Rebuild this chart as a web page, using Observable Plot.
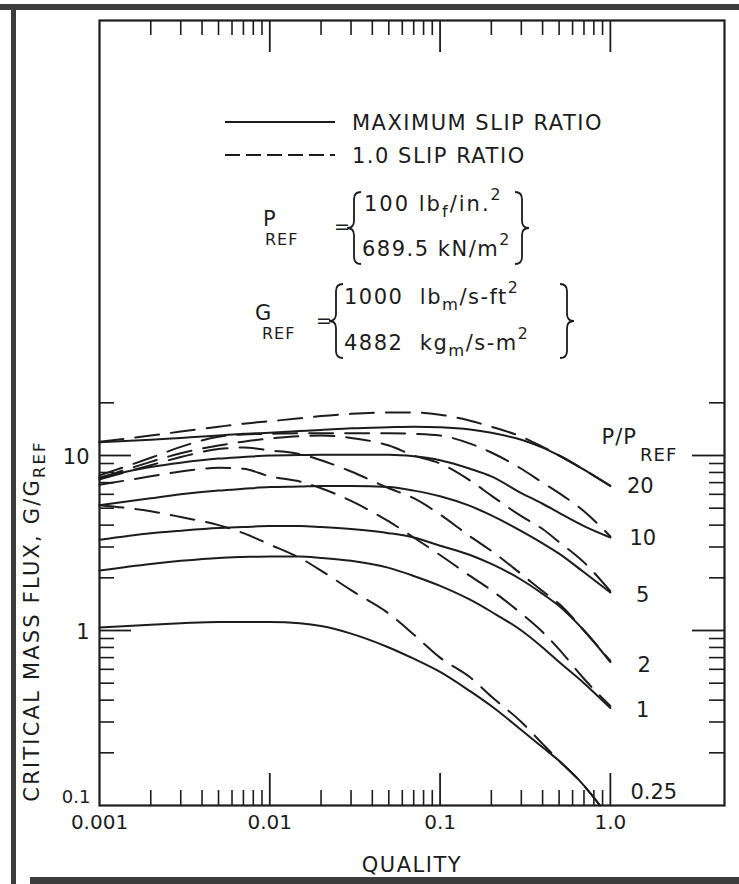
<!DOCTYPE html>
<html>
<head>
<meta charset="utf-8">
<script src="https://cdn.jsdelivr.net/npm/d3@7"></script>
<script src="https://cdn.jsdelivr.net/npm/@observablehq/plot@0.6"></script>
<style>
  html, body { margin:0; padding:0; background:#fff; }
  #chart { position:relative; width:739px; height:884px; overflow:hidden; background:#fff; }
  #chart svg { position:absolute; left:0; top:0; }
  .scan { position:absolute; background:#3c3c3c; }
</style>
</head>
<body>
<div id="chart"></div>
<script>
// ---------- data ----------
const quality    = [0.001, 0.002, 0.003, 0.005, 0.007, 0.01, 0.015, 0.02, 0.03, 0.05, 0.07, 0.1, 0.15, 0.2, 0.3, 0.4, 0.5, 0.7, 1.0];
const quality025 = [0.001, 0.002, 0.003, 0.005, 0.007, 0.01, 0.015, 0.02, 0.03, 0.05, 0.07, 0.1, 0.15, 0.2, 0.3, 0.4, 0.5, 0.7, 0.87];

// maximum slip ratio (solid)
const maxSlip20  = [11.9, 12.3, 12.6, 13.0, 13.3, 13.5, 13.8, 14.0, 14.3, 14.5, 14.6, 14.5, 14.1, 13.5, 12.3, 11.1, 10.0, 8.3, 6.7];
const maxSlip10  = [7.5, 8.6, 9.1, 9.6, 9.8, 10.0, 10.05, 10.1, 10.1, 10.1, 9.9, 9.4, 8.4, 7.6, 6.1, 5.3, 4.7, 3.95, 3.4];
const maxSlip5   = [5.2, 5.7, 6.0, 6.3, 6.45, 6.6, 6.65, 6.7, 6.7, 6.6, 6.3, 5.85, 5.15, 4.55, 3.7, 3.15, 2.75, 2.15, 1.65];
const maxSlip2   = [3.3, 3.6, 3.72, 3.85, 3.9, 3.95, 3.95, 3.9, 3.8, 3.6, 3.4, 3.05, 2.7, 2.4, 1.95, 1.62, 1.38, 1.0, 0.66];
const maxSlip1   = [2.2, 2.4, 2.5, 2.6, 2.63, 2.65, 2.65, 2.6, 2.5, 2.28, 2.05, 1.8, 1.5, 1.28, 1.0, 0.8, 0.66, 0.5, 0.36];
const maxSlip025 = [1.04, 1.08, 1.10, 1.12, 1.12, 1.12, 1.10, 1.06, 0.96, 0.8, 0.69, 0.58, 0.45, 0.37, 0.27, 0.215, 0.18, 0.13, 0.1];

// 1.0 slip ratio (dashed)
const oneSlip20  = [12.0, 13.0, 13.7, 14.6, 15.2, 15.7, 16.3, 16.8, 17.3, 17.6, 17.6, 17.1, 15.8, 14.6, 12.8, 11.2, 10.0, 8.3, 6.7];
const oneSlip10  = [7.7, 9.7, 11.2, 12.8, 13.2, 13.3, 13.4, 13.4, 13.4, 13.4, 13.3, 13.0, 11.7, 10.4, 8.4, 7.0, 6.1, 4.8, 3.45];
const oneSlip5   = [7.4, 9.2, 10.3, 11.4, 12.0, 12.5, 12.9, 13.0, 12.6, 11.4, 10.0, 9.0, 7.2, 5.9, 4.5, 3.8, 3.2, 2.45, 1.68];
const oneSlip2   = [7.3, 8.8, 9.8, 10.9, 11.1, 10.7, 10.2, 9.4, 8.1, 6.5, 5.7, 4.6, 3.45, 2.85, 2.1, 1.68, 1.42, 1.0, 0.67];
const oneSlip1   = [6.8, 7.6, 8.1, 8.5, 8.4, 7.6, 7.1, 6.5, 5.5, 4.2, 3.4, 2.7, 2.05, 1.7, 1.25, 0.98, 0.78, 0.53, 0.37];
const oneSlip025 = [5.2, 4.8, 4.45, 4.0, 3.6, 3.1, 2.6, 2.2, 1.7, 1.25, 0.95, 0.70, 0.54, 0.42, 0.30, 0.225, 0.18, 0.13, 0.1];

const pressureRatios = ["20", "10", "5", "2", "1", "0.25"];
const labelQuality   = [1.5, 1.55, 1.55, 1.58, 1.55, 1.8];
const labelFlux      = [6.7, 3.36, 1.58, 0.63, 0.35, 0.119];

// axis ticks and labels
const xMinorTicks = [0.002,0.003,0.004,0.005,0.006,0.007,0.008,0.009,
                     0.02,0.03,0.04,0.05,0.06,0.07,0.08,0.09,
                     0.2,0.3,0.4,0.5,0.6,0.7,0.8,0.9];
const xMajorTicks = [0.01, 0.1, 1];
const yMinorTicks = [0.2,0.3,0.4,0.5,0.6,0.7,0.8,0.9, 2,3,4,5,6,7,8,9, 20];
const yMajorTicks = [1, 10];
const xTickValues = [0.001, 0.01, 0.1, 1];
const xTickLabels = ["0.001", "0.01", "0.1", "1.0"];
const yTickValues = [0.1, 1, 10];
const yTickLabels = ["0.1", "1", "10"];

// ---------- build table ----------
const solidSeries  = [maxSlip20, maxSlip10, maxSlip5, maxSlip2, maxSlip1, maxSlip025];
const dashedSeries = [oneSlip20, oneSlip10, oneSlip5, oneSlip2, oneSlip1, oneSlip025];
function rowsOf(seriesList, slip) {
  return seriesList.flatMap((vals, k) => {
    const qs = pressureRatios[k] === "0.25" ? quality025 : quality;
    return vals.map((g, i) => ({p: pressureRatios[k], slip, q: qs[i], g}));
  });
}
const solidRows  = rowsOf(solidSeries, "max");
const dashedRows = rowsOf(dashedSeries, "1.0");

const W = 739, H = 884, ML = 99, MR = 15, MT = 20, MB = 79;
const innerW = W - ML - MR, innerH = H - MT - MB;
const INK = "#1c1c1c";
const FONT = "DejaVu Sans, sans-serif";

const plot = Plot.plot({
  width: W, height: H,
  marginLeft: ML, marginRight: MR, marginTop: MT, marginBottom: MB,
  style: {fontFamily: FONT, fontSize: "21px", color: INK, background: "transparent"},
  x: {type: "log", domain: [0.001, 4.68], axis: null},
  y: {type: "log", domain: [0.1, 3060], axis: null},
  marks: [
    // ticks (inside the frame)
    Plot.tickX(xMinorTicks, {x: d => d, insetTop: innerH - 15, stroke: INK, strokeWidth: 1.6}),
    Plot.tickX(xMajorTicks, {x: d => d, insetTop: innerH - 32, stroke: INK, strokeWidth: 1.8}),
    Plot.tickX(xMinorTicks, {x: d => d, insetBottom: innerH - 15, stroke: INK, strokeWidth: 1.6}),
    Plot.tickX(xMajorTicks, {x: d => d, insetBottom: innerH - 32, stroke: INK, strokeWidth: 1.8}),
    Plot.tickY(yMinorTicks, {y: d => d, insetRight: innerW - 15, stroke: INK, strokeWidth: 1.6}),
    Plot.tickY(yMajorTicks, {y: d => d, insetRight: innerW - 32, stroke: INK, strokeWidth: 1.8}),
    Plot.tickY(yMinorTicks, {y: d => d, insetLeft: innerW - 15, stroke: INK, strokeWidth: 1.6}),
    Plot.tickY(yMajorTicks, {y: d => d, insetLeft: innerW - 32, stroke: INK, strokeWidth: 1.8}),
    Plot.frame({stroke: INK, strokeWidth: 2.2}),
    // curves
    Plot.line(solidRows, {x: "q", y: "g", z: "p", curve: "monotone-x", stroke: INK, strokeWidth: 2}),
    Plot.line(dashedRows, {x: "q", y: "g", z: "p", curve: "monotone-x", stroke: INK, strokeWidth: 2, strokeDasharray: "24,12"}),
    // tick labels
    Plot.text(xTickValues, {x: d => d, text: (d, i) => xTickLabels[i], frameAnchor: "bottom", dy: 23, fill: INK, fontSize: 20}),
    Plot.text(yTickValues.slice(1), {y: d => d, text: (d, i) => yTickLabels[i + 1], frameAnchor: "left", dx: -10, dy: 2, textAnchor: "end", fill: INK, fontSize: 21}),
    Plot.text(yTickValues.slice(0, 1), {y: d => d, text: (d, i) => yTickLabels[i], frameAnchor: "left", dx: -9, dy: -8, textAnchor: "end", fill: INK, fontSize: 18}),
    // curve labels
    Plot.text(pressureRatios, {x: (d, i) => labelQuality[i], y: (d, i) => labelFlux[i], text: d => d, textAnchor: "middle", fill: INK, fontSize: 21})
  ]
});

const chart = document.getElementById("chart");
chart.appendChild(plot);

// ---------- annotations (legend, reference values, axis titles) ----------
const svg = d3.select(plot);
const ann = svg.append("g").attr("fill", INK).attr("font-family", FONT);

function rich(x, y, parts, {size = 21, anchor = "start", spacing = 1.5, rotate = 0} = {}) {
  const t = ann.append("text")
    .attr("x", x).attr("y", y)
    .attr("font-size", size)
    .attr("text-anchor", anchor)
    .attr("dominant-baseline", "middle")
    .attr("letter-spacing", spacing);
  if (rotate) t.attr("transform", `rotate(${rotate},${x},${y})`);
  parts.forEach(p => {
    const s = typeof p === "string" ? {t: p} : p;
    const ts = t.append("tspan").text(s.t);
    if (s.sub) ts.attr("font-size", size * 0.78).attr("baseline-shift", "-45%");
    if (s.sup) ts.attr("font-size", size * 0.75).attr("baseline-shift", "60%");
  });
  return t;
}
function brace(x, y0, y1, dir) {
  const w = 7 * dir, r = 7, ym = (y0 + y1) / 2;
  const d = `M${x + w},${y0} Q${x},${y0} ${x},${y0 + r} L${x},${ym - r} Q${x},${ym} ${x - w},${ym} ` +
            `Q${x},${ym} ${x},${ym + r} L${x},${y1 - r} Q${x},${y1} ${x + w},${y1}`;
  ann.append("path").attr("d", d).attr("fill", "none").attr("stroke", INK).attr("stroke-width", 1.8);
}

// legend
ann.append("line").attr("x1", 225).attr("x2", 335).attr("y1", 122).attr("y2", 122)
  .attr("stroke", INK).attr("stroke-width", 2);
ann.append("line").attr("x1", 225).attr("x2", 335).attr("y1", 155).attr("y2", 155)
  .attr("stroke", INK).attr("stroke-width", 2).attr("stroke-dasharray", "15,6");
rich(352, 124, ["MAXIMUM SLIP RATIO"]);
rich(352, 157, ["1.0 SLIP RATIO"]);

// P_REF block
rich(263, 220, ["P"]);
rich(265, 240, ["REF"], {size: 16, spacing: 1});
rich(334, 227, ["="], {size: 19});
brace(354, 192, 264, 1);
rich(364, 205, ["100 lb", {t: "f", sub: true}, "/in.", {t: "2", sup: true}], {spacing: 2});
rich(362, 250, ["689.5 kN/m", {t: "2", sup: true}], {spacing: 1.5});
brace(522, 192, 264, -1);

// G_REF block
rich(255, 314, ["G"]);
rich(262, 334, ["REF"], {size: 16, spacing: 1});
rich(316, 321, ["="], {size: 19});
brace(336, 284, 358, 1);
rich(344, 298, ["1000  lb", {t: "m", sub: true}, "/s-ft", {t: "2", sup: true}], {spacing: 1.5});
rich(344, 344, ["4882  kg", {t: "m", sub: true}, "/s-m", {t: "2", sup: true}], {spacing: 1.5});
brace(567, 284, 358, -1);

// P/P_REF header
rich(637, 438, ["P/P"], {anchor: "end", spacing: 1});
rich(640, 456, ["REF"], {size: 18, spacing: 1});

// axis titles
rich(412, 866, ["QUALITY"], {anchor: "middle", spacing: 1.5});
rich(33, 621, ["CRITICAL MASS FLUX, G/G", {t: "REF", sub: true}], {anchor: "middle", spacing: 2.2, rotate: -90});

// scan edges of the source page
[["0px", "4px", "739px", "6px"], ["11px", "4px", "5px", "880px"], ["30px", "877px", "709px", "7px"]]
  .forEach(([l, t, w, h]) => {
    const d = document.createElement("div");
    d.className = "scan";
    Object.assign(d.style, {left: l, top: t, width: w, height: h});
    chart.appendChild(d);
  });
</script>
</body>
</html>
